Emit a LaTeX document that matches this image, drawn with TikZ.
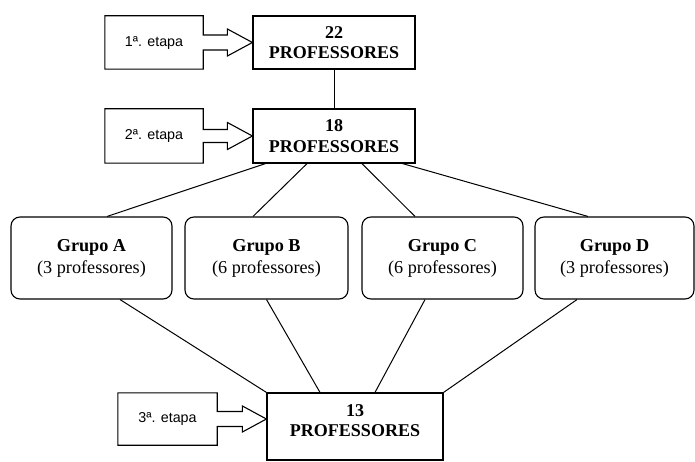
\documentclass[tikz,border=0pt]{standalone}
\usepackage{fontspec}
\setmainfont{Liberation Serif}
\newfontfamily\arialf{Liberation Sans}
\usetikzlibrary{calc}
\begin{document}
\begin{tikzpicture}[x=1pt,y=-1pt,
 stagebox/.style={minimum width=98pt, minimum height=53pt, inner sep=0pt, font=\arialf\fontsize{14.3}{16}\selectfont},
 callout/.style={draw, line width=1.1pt, line join=miter},
 profbox/.style={draw, line width=1.2pt, minimum width=162pt, minimum height=53pt, inner sep=0pt, align=center, font=\bfseries\fontsize{18}{20.5}\selectfont},
 groupbox/.style={draw, line width=1.1pt, rounded corners=9pt, minimum height=82pt, inner sep=0pt, align=center, font=\fontsize{18.2}{22}\selectfont},
 link/.style={draw, line width=1pt}]
\useasboundingbox (0,0) rectangle (695,462);

% stage boxes (text only, outline drawn as callout)
\node[stagebox] (e1) at (154,42.5) {1ª. etapa};
\node[stagebox, minimum height=54pt] (e2) at (154,136) {2ª. etapa};
\node[stagebox, minimum width=99pt, minimum height=52pt] (e3) at (167.5,419) {3ª. etapa};

% professor boxes
\node[profbox] (p22) at (334,42.5) {22\\PROFESSORES};
\node[profbox, minimum height=54pt] (p18) at (334,136) {18\\PROFESSORES};
\node[profbox, minimum width=176pt, minimum height=67pt,
      label={[font=\bfseries\fontsize{18}{20.5}\selectfont, align=center, yshift=6pt]center:{13\\PROFESSORES}}] (p13) at (355,426.5) {};

% groups
\node[groupbox, minimum width=161pt] (gA) at (91.5,258) {\textbf{Grupo A}\\(3 professores)};
\node[groupbox, minimum width=163pt] (gB) at (266.5,258) {\textbf{Grupo B}\\(6 professores)};
\node[groupbox, minimum width=161pt] (gC) at (442.5,258) {\textbf{Grupo C}\\(6 professores)};
\node[groupbox, minimum width=159pt] (gD) at (614.5,258) {\textbf{Grupo D}\\(3 professores)};

% callout outlines
\draw[callout] (e1.north west) -- (e1.north east) -- ($(e1.east)+(0,-7.5)$)
  -- ($(e1.east -| p22.west)+(-25,-7.5)$) -- ++(0,-6) -- (e1.east -| p22.west)
  -- ++(-25,13.5) -- ++(0,-6) -- ($(e1.east)+(0,7.5)$) -- (e1.south east) -- (e1.south west) -- cycle;
\draw[callout] (e2.north west) -- (e2.north east) -- ($(e2.east)+(0,-6.5)$)
  -- ($(e2.east -| p18.west)+(-25,-6.5)$) -- ++(0,-7) -- (e2.east -| p18.west)
  -- ++(-25,13.5) -- ++(0,-7) -- ($(e2.east)+(0,6.5)$) -- (e2.south east) -- (e2.south west) -- cycle;
\draw[callout] (e3.north west) -- (e3.north east) -- ($(e3.east)+(0,-7.5)$)
  -- ($(e3.east -| p13.west)+(-24,-7.5)$) -- ++(0,-5.5) -- (e3.east -| p13.west)
  -- ++(-24,13) -- ++(0,-5.5) -- ($(e3.east)+(0,7.5)$) -- (e3.south east) -- (e3.south west) -- cycle;

% connectors
\draw[link] (p22.south) -- (p18.north);
\draw[link] ([xshift=13pt]p18.south west) -- ([xshift=15.5pt]gA.north);
\draw[link] ([xshift=-27pt]p18.south) -- ([xshift=-13.5pt]gB.north);
\draw[link] ([xshift=28pt]p18.south) -- ([xshift=-27.5pt]gC.north);
\draw[link] ([xshift=-13pt]p18.south east) -- ([xshift=-26.5pt]gD.north);

\draw[link] ([xshift=28.5pt]gA.south) -- (p13.north west);
\draw[link] (gB.south) -- ([xshift=-35pt]p13.north);
\draw[link] ([xshift=-17.5pt]gC.south) -- ([xshift=20pt]p13.north);
\draw[link] ([xshift=-37.5pt]gD.south) -- (p13.north east);
\end{tikzpicture}
\end{document}
